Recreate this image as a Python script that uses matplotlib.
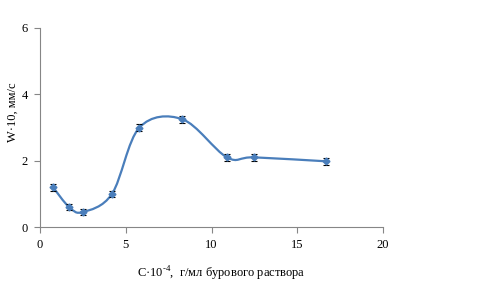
import matplotlib
matplotlib.use("Agg")
import matplotlib.pyplot as plt
from matplotlib.path import Path
import matplotlib.patches as patches
import numpy as np

# data
conc = [0.76, 1.7, 2.5, 4.2, 5.8, 8.3, 10.9, 12.5, 16.7]
speed = [1.2, 0.6, 0.45, 1.0, 3.0, 3.25, 2.1, 2.1, 1.98]
err = [0.1, 0.1, 0.1, 0.1, 0.1, 0.1, 0.1, 0.1, 0.1]

x_ticks = [0, 5, 10, 15, 20]
y_ticks = [0, 2, 4, 6]

line_col = '#4A7EBB'
grey = '#868686'

plt.rcParams['font.family'] = ['Liberation Serif', 'DejaVu Serif']
plt.rcParams['mathtext.fontset'] = 'custom'
plt.rcParams['mathtext.rm'] = 'Liberation Serif'


def smooth_path(xs, ys):
    """Excel-like smoothed line: cubic Bezier through the points."""
    pts = np.column_stack([xs, ys])
    n = len(pts)
    verts = [pts[0]]
    codes = [Path.MOVETO]
    for i in range(n - 1):
        p0 = pts[i - 1] if i > 0 else pts[i]
        p1 = pts[i]
        p2 = pts[i + 1]
        p3 = pts[i + 2] if i + 2 < n else pts[i + 1]
        c1 = p1 + (p2 - p0) / 6.0
        c2 = p2 - (p3 - p1) / 6.0
        verts += [c1, c2, p2]
        codes += [Path.CURVE4] * 3
    return Path(verts, codes)


fig = plt.figure(figsize=(4.81, 2.88), dpi=100)
ax = fig.add_axes([40 / 481, 1 - 227 / 288, 343 / 481, 199 / 288])

ax.add_patch(patches.PathPatch(smooth_path(conc, speed), facecolor='none',
                               edgecolor=line_col, linewidth=1.6, zorder=2))
ax.errorbar(conc, speed, yerr=err, fmt='D', color=line_col, markersize=3.5,
            ecolor='black', elinewidth=0.8, capsize=2.5, capthick=0.8, zorder=3)

ax.set_xlim(0, 20)
ax.set_ylim(0, 6)
ax.set_xticks(x_ticks)
ax.set_yticks(y_ticks)

for s in ['top', 'right']:
    ax.spines[s].set_visible(False)
for s in ['left', 'bottom']:
    ax.spines[s].set_color(grey)
    ax.spines[s].set_linewidth(0.8)
ax.tick_params(axis='both', direction='out', length=4, width=0.8,
               color=grey, labelsize=9, pad=5)

ax.set_xlabel(r'C·10$^{\text{-4}}$,  г/мл бурового раствора', fontsize=9)
ax.xaxis.set_label_coords(0.528, -0.19)
ax.set_ylabel('W·10, мм/с', fontsize=9)
ax.yaxis.set_label_coords(-0.063, 0.575)

fig.savefig('out.png', dpi=100)
